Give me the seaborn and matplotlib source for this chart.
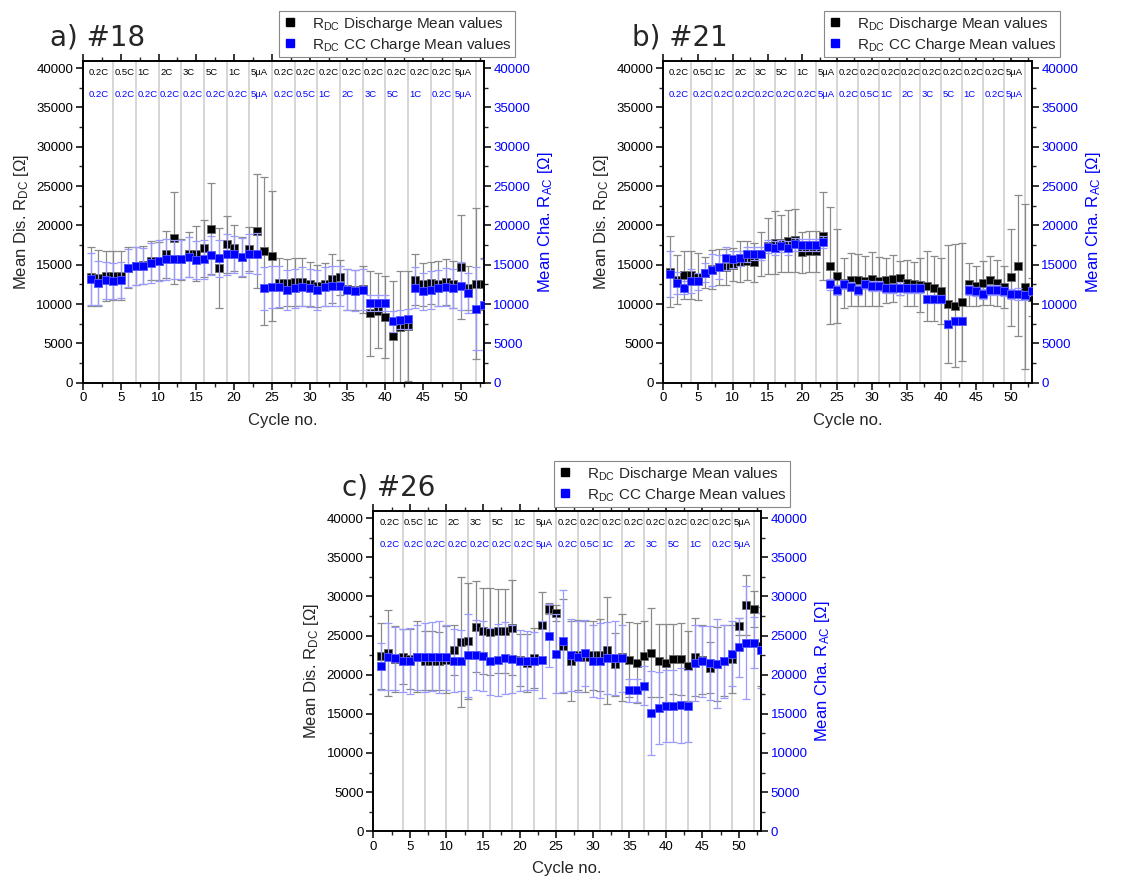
import numpy as np
import pandas as pd
import matplotlib
matplotlib.use("Agg")
import matplotlib.pyplot as plt
import seaborn as sns
from matplotlib.ticker import MultipleLocator
from matplotlib.lines import Line2D

# ---------------- data ----------------
cycles = np.arange(1, 54)

a_dis = [13500, 13300, 13600, 13600, 13600, 14600, 14800, 15000, 15500, 15500,
         16300, 18400, 15700, 16300, 16400, 17100, 19600, 14600, 17600, 17100,
         16000, 17000, 19300, 16700, 16100, 12700, 12700, 12800, 12800, 12500,
         12300, 12500, 13200, 13400, 11900, 11800, 11900, 8850, 9150, 8400,
         5900, 7100, 7200, 13100, 12500, 12700, 12600, 12800, 12500, 14700,
         12000, 12600, 12500]
a_dis_err = [3800, 3600, 3200, 3100, 3100, 2600, 2400, 2400, 2500, 2400,
             3000, 5900, 2600, 2900, 3500, 3600, 5800, 5100, 3600, 2900,
             2500, 2800, 7200, 9400, 8300, 3200, 3000, 3100, 3000, 2800,
             2700, 2700, 3100, 2200, 2600, 2500, 3000, 5400, 4800, 5200,
             7000, 7100, 7000, 3200, 2700, 2700, 2900, 2900, 3000, 6600,
             2800, 9600, 3300]
a_cha = [13200, 12700, 13000, 12900, 13100, 14600, 14800, 14800, 15200, 15500,
         15700, 15700, 15700, 16000, 15600, 15700, 16200, 15800, 16300, 16300,
         16000, 16400, 16400, 12000, 12200, 12200, 11800, 12000, 12200, 12000,
         11800, 12200, 12300, 12300, 11800, 11700, 11800, 10100, 10100, 10100,
         7800, 8000, 8100, 12100, 11600, 11800, 12000, 12200, 12000, 12300,
         11400, 9400, 9900]
a_cha_err = [3300, 2800, 2400, 2300, 2300, 2400, 2400, 2300, 2500, 2600,
             2600, 2500, 2500, 2500, 2400, 2500, 2500, 2300, 2600, 2400,
             2400, 2500, 2600, 2700, 2700, 2600, 2500, 2500, 2500, 2400,
             2500, 2500, 2600, 2500, 2600, 2600, 2600, 1000, 1000, 1000,
             1300, 1200, 1300, 2600, 2300, 2400, 2300, 2400, 2500, 3000,
             2500, 5300, 5800]

b_dis = [14100, 13100, 13700, 13700, 13500, 14000, 14400, 14700, 14700, 15000,
         15400, 15500, 15300, 16400, 17400, 17800, 17700, 18000, 18100, 16600,
         16700, 16700, 18600, 14900, 13600, 12700, 13100, 13000, 12900, 13200,
         12900, 13000, 13200, 13300, 12700, 12600, 12400, 12300, 12000, 11700,
         10000, 9800, 10200, 12500, 12300, 12700, 13000, 12700, 12200, 13400,
         14900, 12200, 10900]
b_dis_err = [4500, 3100, 3000, 3100, 3000, 2000, 2500, 2300, 2300, 2100,
             2600, 2500, 2500, 2800, 3600, 4000, 3600, 3900, 4000, 2600,
             2600, 2600, 5600, 7500, 6000, 3200, 3400, 3300, 3200, 3400,
             3100, 2900, 3000, 2200, 2900, 2800, 3400, 4400, 4100, 4200,
             7500, 7800, 7500, 2700, 2600, 2800, 3100, 2900, 2700, 6200,
             9000, 10500, 2400]
b_cha = [13800, 12700, 12100, 12900, 12900, 14000, 14300, 14700, 15800, 15700,
         15800, 16300, 16400, 16400, 17300, 17100, 17400, 17100, 17600, 17500,
         17500, 17500, 17900, 12500, 11800, 12500, 12200, 11800, 12500, 12300,
         12300, 12000, 12000, 12000, 12000, 12000, 12000, 10600, 10600, 10600,
         7500, 7800, 7900, 11800, 11600, 11300, 11800, 11800, 11600, 11300,
         11300, 11100, 11600]
b_cha_err = [2900, 1400, 800, 1500, 1100, 1200, 2000, 1500, 1500, 1100,
             1000, 1000, 800, 800, 800, 900, 800, 900, 800, 800,
             800, 800, 800, 700, 600, 600, 600, 600, 600, 600,
             600, 600, 600, 800, 600, 600, 600, 500, 500, 500,
             500, 500, 500, 600, 600, 600, 600, 600, 600, 600,
             800, 600, 600]

c_dis = [22400, 22800, 22000, 22300, 22000, 22300, 21800, 21800, 21700, 21900,
         23200, 24200, 24300, 26100, 25600, 25500, 25600, 25600, 26000, 21900,
         21500, 22100, 26400, 28400, 27900, 23600, 21700, 22500, 22300, 22500,
         22500, 23100, 21300, 22200, 21900, 21500, 22400, 22800, 21800, 21500,
         22000, 22000, 21100, 22300, 21900, 20900, 21400, 21800, 22000, 26200,
         28900, 28400, 23600]
c_dis_err = [4200, 5500, 4200, 3500, 3800, 4500, 3800, 3800, 3700, 4300,
             3200, 8300, 7400, 5800, 5500, 5600, 5400, 5400, 6100, 3300,
             3700, 3800, 4100, 700, 1000, 6000, 5100, 4500, 4500, 4400,
             4600, 6800, 4000, 5600, 4800, 5100, 4400, 5700, 4700, 5000,
             4500, 4600, 4500, 5000, 4400, 3300, 4700, 4500, 4300, 1100,
             3800, 2300, 5000]
c_cha = [21100, 22300, 22100, 21800, 21700, 22200, 22200, 22300, 22300, 22200,
         21800, 21800, 22500, 22500, 22400, 21700, 21900, 22100, 22000, 21800,
         21800, 21800, 21900, 25000, 22700, 24300, 22500, 22300, 22800, 21800,
         21800, 22100, 22100, 22100, 18000, 18000, 18600, 15100, 15800, 16000,
         16000, 16100, 16000, 21500, 21700, 21500, 21400, 21700, 22700, 23500,
         24100, 24100, 23100]
c_cha_err = [3000, 4300, 4000, 4000, 4200, 4200, 4400, 4400, 4600, 4100,
             4000, 3900, 5300, 4500, 4500, 4300, 4600, 4600, 4300, 3900,
             3800, 3700, 4900, 4000, 5000, 6500, 4600, 4500, 4200, 4600,
             4800, 4600, 4700, 4300, 1500, 1500, 2500, 5400, 4600, 4600,
             4600, 4800, 4600, 4800, 4500, 4700, 5700, 4700, 4200, 3800,
             7200, 3300, 4800]

segment_lines = [4, 7, 10, 13, 16, 19, 22, 25, 28, 31, 34, 37, 40, 43, 46, 49, 52]
dis_rates = ["0.2C", "0.5C", "1C", "2C", "3C", "5C", "1C", "5µA", "0.2C", "0.2C",
             "0.2C", "0.2C", "0.2C", "0.2C", "0.2C", "0.2C", "5µA"]
cha_rates = ["0.2C", "0.2C", "0.2C", "0.2C", "0.2C", "0.2C", "0.2C", "5µA", "0.2C",
             "0.5C", "1C", "2C", "3C", "5C", "1C", "0.2C", "5µA"]

# ---------------- style ----------------
sns.set_theme(style="ticks")
plt.rcParams["font.family"] = ["Liberation Sans", "DejaVu Sans"]
plt.rcParams["mathtext.fontset"] = "custom"
plt.rcParams["mathtext.rm"] = "Liberation Sans"
plt.rcParams["mathtext.it"] = "Liberation Sans:italic"
plt.rcParams["mathtext.bf"] = "Liberation Sans:bold"

BLUE = "#0000ff"
W, H = 1147, 882
fig = plt.figure(figsize=(W / 100, H / 100), dpi=100)


def px_rect(x0, x1, ytop, ybot):
    return [x0 / W, 1 - ybot / H, (x1 - x0) / W, (ybot - ytop) / H]


def panel(rect, title, title_xy, leg_box, dis, dis_err, cha, cha_err):
    ax = fig.add_axes(rect)
    ax2 = ax.twinx()
    ymax = 40900
    for a in (ax, ax2):
        a.set_xlim(0, 53)
        a.set_ylim(0, ymax)
    # vertical segment lines
    for xl in segment_lines:
        ax.axvline(xl, color="#d0d0d0", lw=1.2, zorder=0)
    # segment labels
    starts = [0.6] + segment_lines[:-1]
    for s, t1, t2 in zip(starts, dis_rates, cha_rates):
        ax.text(s + 0.2, 39400, t1, fontsize=6.8, color="black", ha="left", va="center")
        ax.text(s + 0.2, 36600, t2, fontsize=6.8, color=BLUE, ha="left", va="center")

    df_d = pd.DataFrame({"cycle": cycles, "val": dis, "err": dis_err})
    df_c = pd.DataFrame({"cycle": cycles, "val": cha, "err": cha_err})

    ax.errorbar(df_d["cycle"], df_d["val"], yerr=df_d["err"], fmt="none",
                ecolor="#8a8a8a", elinewidth=0.9, capsize=2.6, capthick=0.9, zorder=2)
    sns.scatterplot(data=df_d, x="cycle", y="val", ax=ax, marker="s", s=34,
                    color="black", edgecolor="#6a6a6a", linewidth=0.6, zorder=3, legend=False)
    ax2.errorbar(df_c["cycle"], df_c["val"], yerr=df_c["err"], fmt="none",
                 ecolor="#9a9aff", elinewidth=0.9, capsize=2.6, capthick=0.9, zorder=2)
    sns.scatterplot(data=df_c, x="cycle", y="val", ax=ax2, marker="s", s=34,
                    color=BLUE, edgecolor="#5a5aff", linewidth=0.6, zorder=3, legend=False)

    ax.xaxis.set_major_locator(MultipleLocator(5))
    ax.xaxis.set_minor_locator(MultipleLocator(2.5))
    for a in (ax, ax2):
        a.yaxis.set_major_locator(MultipleLocator(5000))
        a.yaxis.set_minor_locator(MultipleLocator(2500))
    ax.tick_params(axis="both", which="major", direction="out", length=5, width=1.1,
                   labelsize=9.5, colors="black", top=True, labeltop=False, pad=2)
    ax.tick_params(axis="both", which="minor", direction="out", length=3, width=1.0,
                   top=True)
    ax2.tick_params(axis="y", which="major", direction="out", length=5, width=1.1,
                    labelsize=9.5, labelcolor=BLUE, color="black", pad=2)
    ax2.tick_params(axis="y", which="minor", direction="out", length=3, width=1.0)
    for a in (ax, ax2):
        for sp in a.spines.values():
            sp.set_visible(True)
            sp.set_color("black")
            sp.set_linewidth(1.2)
    ax.set_xlabel("Cycle no.", fontsize=12, labelpad=6)
    ax.set_ylabel(r"Mean Dis. R$_{\mathrm{DC}}$ [Ω]", fontsize=12, labelpad=4)
    ax2.set_ylabel(r"Mean Cha. R$_{\mathrm{AC}}$ [Ω]", fontsize=12, color=BLUE, labelpad=4)
    ax.set_zorder(1)
    ax2.set_zorder(2)
    ax.patch.set_visible(True)
    ax2.patch.set_visible(False)

    fig.text(title_xy[0] / W, 1 - title_xy[1] / H, title, fontsize=20,
             family="DejaVu Sans", ha="left", va="baseline")

    handles = [Line2D([], [], ls="none", marker="s", ms=6, color="black"),
               Line2D([], [], ls="none", marker="s", ms=6, color=BLUE)]
    labels = [r"R$_{\mathrm{DC}}$ Discharge Mean values",
              r"R$_{\mathrm{DC}}$ CC Charge Mean values"]
    leg = ax2.legend(handles, labels, loc="upper right",
                     bbox_to_anchor=(leg_box[0] / W, 1 - leg_box[1] / H),
                     bbox_transform=fig.transFigure, borderaxespad=0,
                     fontsize=11, frameon=True, fancybox=False, framealpha=1,
                     edgecolor="#888888", handlelength=1.0, handletextpad=0.9,
                     borderpad=0.25, labelspacing=0.2, borderaxespad_=None) if False else \
        ax2.legend(handles, labels, loc="upper right",
                   bbox_to_anchor=(leg_box[0] / W, 1 - leg_box[1] / H),
                   bbox_transform=fig.transFigure, borderaxespad=0,
                   fontsize=11, frameon=True, fancybox=False, framealpha=1,
                   edgecolor="#888888", handlelength=1.0, handletextpad=0.9,
                   borderpad=0.25, labelspacing=0.2)
    leg.get_frame().set_linewidth(0.8)
    return ax, ax2


panel(px_rect(83, 483.5, 61, 382.7), "a) #18", (50, 45.7), (515, 10.7),
      a_dis, a_dis_err, a_cha, a_cha_err)
panel(px_rect(663.3, 1031.7, 61, 382.7), "b) #21", (631.7, 45.7), (1060, 10.7),
      b_dis, b_dis_err, b_cha, b_cha_err)
panel(px_rect(373.3, 761, 511, 831.3), "c) #26", (341.7, 495.7), (790, 460.7),
      c_dis, c_dis_err, c_cha, c_cha_err)

fig.savefig("out.png", dpi=100, facecolor="white")
